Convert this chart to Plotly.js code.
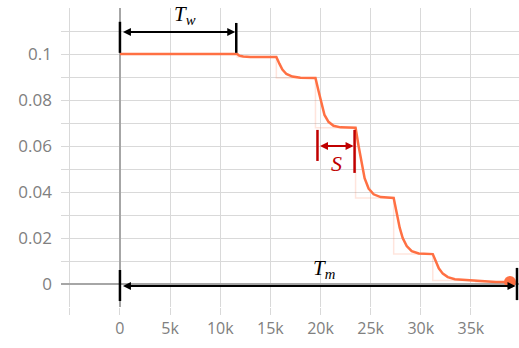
<!DOCTYPE html>
<html>
<head>
<meta charset="utf-8">
<script src="https://cdn.plot.ly/plotly-3.0.1.min.js"></script>
<style>html,body{margin:0;padding:0;background:#fff;}#chart{width:519px;height:348px;}</style>
</head>
<body>
<div id="chart"></div>
<script>
// Smoothed learning-rate curve (step, value)
const smoothSteps = [0, 11700, 11900, 12300, 13000, 15600, 15900, 16200, 16600, 17200, 18000, 19500,
  19800, 20100, 20400, 20800, 21300, 22000, 23500,
  23800, 24100, 24400, 24800, 25300, 26000, 27300,
  27600, 27900, 28200, 28600, 29100, 29800, 31200,
  31500, 31800, 32200, 32700, 33400, 34500, 35500, 35800, 36500, 37500, 38900];
const smoothValues = [0.1, 0.1, 0.0993, 0.0989, 0.0987, 0.0987, 0.0958, 0.0932, 0.0913, 0.0902, 0.0897, 0.0896,
  0.0840, 0.0780, 0.0735, 0.0705, 0.0688, 0.0681, 0.0679,
  0.0600, 0.0520, 0.0460, 0.0415, 0.0390, 0.0378, 0.0374,
  0.0310, 0.0245, 0.0200, 0.0165, 0.0143, 0.0133, 0.0130,
  0.0095, 0.0068, 0.0045, 0.0030, 0.0021, 0.0017, 0.0016, 0.0012, 0.0010, 0.0009, 0.0009];
// Raw (unsmoothed) step values
const rawSteps = [0, 11700, 15600, 19500, 23500, 27300, 31200, 35500, 38900];
const rawValues = [0.1, 0.0987, 0.0896, 0.0679, 0.0374, 0.013, 0.0015, 0.0009, 0.0009];
// Tick labels
const xTickVals = [0, 5000, 10000, 15000, 20000, 25000, 30000, 35000];
const xTickText = ['0', '5k', '10k', '15k', '20k', '25k', '30k', '35k'];
const xMinorVals = [-5000];
const yTickVals = [0, 0.02, 0.04, 0.06, 0.08, 0.1];
const yTickText = ['0', '0.02', '0.04', '0.06', '0.08', '0.1'];
const yMinorVals = [-0.01, 0.01, 0.03, 0.05, 0.07, 0.09, 0.11, 0.12];
// Annotation brackets: [start step, end step]
const Tw = [0, 11600];
const Sspan = [19700, 23400];
const Tm = [0, 39600];

const orange = '#ff7043';
const red = '#c00000';
const gridC = '#d9d9d9';

const traces = [
  {x: rawSteps, y: rawValues, type: 'scatter', mode: 'lines', line: {shape: 'hv', color: orange, width: 1.5}, opacity: 0.18, hoverinfo: 'skip'},
  {x: smoothSteps, y: smoothValues, type: 'scatter', mode: 'lines', line: {color: orange, width: 2.5}},
  {x: [smoothSteps[smoothSteps.length - 1]], y: [smoothValues[smoothValues.length - 1]], type: 'scatter', mode: 'markers', marker: {color: orange, size: 12}}
];

function vline(x, y0, y1, color, w) {
  return {type: 'line', xref: 'x', yref: 'y', x0: x, x1: x, y0: y0, y1: y1, line: {color: color, width: w}};
}
function harrow(x0, x1, y, color) {
  return {x: x1, y: y, ax: x0, ay: y, xref: 'x', yref: 'y', axref: 'x', ayref: 'y', text: '', showarrow: true,
    arrowhead: 2, startarrowhead: 2, arrowside: 'end+start', arrowsize: 0.8, startarrowsize: 0.8, arrowwidth: 2, arrowcolor: color};
}
const serif = 'Liberation Serif, DejaVu Serif, serif';

const layout = {
  width: 519, height: 348,
  margin: {l: 61, r: 0, t: 8, b: 41},
  paper_bgcolor: '#fff', plot_bgcolor: '#fff',
  showlegend: false,
  font: {family: 'Open Sans, sans-serif', size: 16, color: '#808080'},
  xaxis: {
    range: [-5880, 39800], tickvals: xTickVals, ticktext: xTickText,
    showgrid: true, gridcolor: gridC, gridwidth: 1,
    ticks: 'outside', ticklen: 7, tickcolor: gridC,
    zeroline: true, zerolinecolor: '#a6a6a6', zerolinewidth: 1.5,
    minor: {tickvals: xMinorVals, showgrid: true, gridcolor: gridC, ticks: 'outside', ticklen: 7, tickcolor: gridC},
    showline: false, fixedrange: true,
    tickfont: {size: 16, color: '#808080'}
  },
  yaxis: {
    range: [-0.01, 0.12], tickvals: yTickVals, ticktext: yTickText,
    showgrid: true, gridcolor: gridC, gridwidth: 1,
    ticks: '', ticklabelstandoff: 8,
    zeroline: true, zerolinecolor: '#a6a6a6', zerolinewidth: 1.5,
    minor: {tickvals: yMinorVals, showgrid: true, gridcolor: gridC},
    showline: false, fixedrange: true,
    tickfont: {size: 17, color: '#808080'}
  },
  shapes: [
    vline(Tw[0], 0.1005, 0.1140, '#000', 2.5),
    vline(Tw[1], 0.1005, 0.1135, '#000', 2.5),
    vline(Sspan[0], 0.0535, 0.0670, red, 2.5),
    vline(Sspan[1], 0.0483, 0.0670, red, 2.5),
    vline(Tm[0], -0.0074, 0.0061, '#000', 2.5),
    vline(Tm[1], -0.0070, 0.0070, '#000', 2.5)
  ],
  annotations: [
    harrow(Tw[0] + 150, Tw[1] - 100, 0.1096, '#000'),
    harrow(Sspan[0] + 100, Sspan[1] - 100, 0.0600, red),
    harrow(Tm[0] + 150, Tm[1] - 150, -0.0009, '#000'),
    {x: 6500, y: 0.1170, xref: 'x', yref: 'y', showarrow: false,
     text: '<i>T</i><sub><i>w</i></sub>', font: {family: serif, size: 21, color: '#000'}},
    {x: (Sspan[0] + Sspan[1]) / 2, y: 0.0525, xref: 'x', yref: 'y', showarrow: false,
     text: '<i>S</i>', font: {family: serif, size: 22, color: red}},
    {x: 20400, y: 0.0065, xref: 'x', yref: 'y', showarrow: false,
     text: '<i>T</i><sub><i>m</i></sub>', font: {family: serif, size: 21, color: '#000'}}
  ]
};

Plotly.newPlot('chart', traces, layout, {displayModeBar: false, staticPlot: true});
</script>
</body>
</html>
